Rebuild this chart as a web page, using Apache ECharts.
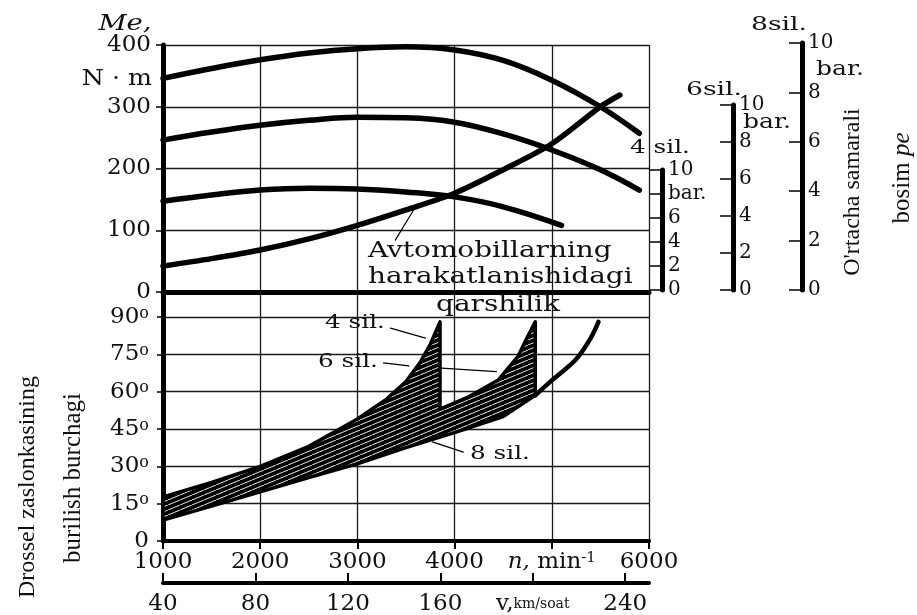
<!DOCTYPE html>
<html><head><meta charset="utf-8">
<script src="https://cdn.jsdelivr.net/npm/echarts@6/dist/echarts.min.js"></script>
<style>html,body{margin:0;padding:0;background:#fff}#c{width:917px;height:615px}</style>
</head><body><div id="c"></div>
<script>
// ---------------- DATA ----------------
// Top panel: effective torque Me (N·m) vs engine speed n (min^-1)
const nTop   = [1000,1500,2000,2500,3000,3500,4000,4500,5000,5500,5900];
const me8    = [346, 362, 376, 387, 394, 397, 392, 375, 343, 300, 257];   // 8 sil.
const me6    = [246, 259, 270, 278, 283, 282, 275, 256, 230, 198, 165];   // 6 sil.
const n4Top  = [1000,1500,2000,2500,3000,3500,4000,4500,5100];
const me4    = [147, 157, 165, 168, 167, 162, 154, 138, 108];              // 4 sil.
const nRes   = [1000,1500,2000,2500,3000,3500,4000,4500,5000,5500,5700];
const resist = [42,  54,  68,  86,  108, 133, 160, 198, 240, 300, 319];     // harakat qarshiligi

// Bottom panel: throttle opening angle (deg) vs n
const n4Thr = [1000,1500,2000,2500,3000,3300,3500,3650,3750,3850];
const thr4  = [17.7,23.5,30,  38,  49,  57,  64,  72,  79,  88];
const n6Thr = [3850,4150,4450,4650,4750,4830];
const thr6  = [53,  58,  64.7,74,  82,  88];
const n8Thr = [1000,1500,2000,2500,3000,3500,4000,4500,4830,5000,5250,5400,5480];
const thr8  = [8.4, 14,  19.7,25.5,31,  37.5,43.5,50,  58.5,64.5,73,  81.5,88];

// Axis tick values
const vTicks = [40,80,120,160,200,240];
const vLabels = [40,80,120,160,240];
const pTicks = [0,2,4,6,8,10];

// Leader lines (data coordinates)
const leaderRes = [[3390,84],[3590,136]];
const leader4   = [[3341,85.5],[3700,81.5]];
const leader6a  = [[3269,71.5],[3530,70.3]];
const leader6b  = [[3823,69.5],[4430,68]];
const leader8   = [[3772,39.8],[4090,35.7]];

// ---------------- CHART ----------------
const chart = echarts.init(document.getElementById('c'), null, {renderer:'canvas', width:917, height:615});
const FS = '"DejaVu Serif", serif';
const TXT = '#111';
const pts = (xs, ys) => xs.map((x,i)=>[x, ys[i]]);

const upper = pts(n4Thr, thr4).concat(pts(n6Thr, thr6));
const split = n6Thr[n6Thr.length-1];
const lowerPart = pts(n8Thr, thr8).filter(p => p[0] <= split).reverse();
const band = upper.concat(lowerPart);
const tail = pts(n8Thr, thr8).filter(p => p[0] >= split);

// hatch pattern
const pc = document.createElement('canvas'); pc.width = 12; pc.height = 5;
const pctx = pc.getContext('2d');
pctx.fillStyle = '#000'; pctx.fillRect(0,0,12,5);
pctx.strokeStyle = '#fff'; pctx.lineWidth = 0.9;
pctx.beginPath(); pctx.moveTo(-6,7.5); pctx.lineTo(18,-2.5); pctx.stroke();
const hatch = {image: pc, repeat: 'repeat'};

const axLine = w => ({show:true, onZero:false, lineStyle:{color:'#000', width:w}});
const split1 = {show:true, lineStyle:{color:'#1a1a1a', width:1.3}};
const lblBase = {color: TXT, fontFamily: FS, fontSize: 23, showMinLabel:true, showMaxLabel:true};

// pressure (bar) axes; on the 4-cyl. axis "bar." replaces the label at 8
function pAxis(grid, barAt8) {
  return {
    gridIndex: grid, type:'value', min:0, max:10, interval:2, position:'left',
    axisLine: axLine(5),
    axisTick: {show:true, inside:false, length:13, lineStyle:{color:'#000', width:1.5}, customValues: pTicks},
    axisLabel: {inside:true, margin:6, color:TXT, fontFamily:FS, fontSize:20,
      customValues: pTicks, showMinLabel:true, showMaxLabel:true,
      formatter: v => (barAt8 && v === 8 ? 'bar.' : String(v))},
    splitLine: {show:false}
  };
}

function lineS(data, xi, w, smooth, z) {
  return {type:'line', xAxisIndex:xi, yAxisIndex:xi, data, smooth: smooth, symbol:'none', silent:true,
    lineStyle:{color:'#000', width:w, cap:'round', join:'round'}, z: z || 4};
}

function T(text, x, y, o) {
  o = o || {};
  return {type:'text', x, y, scaleX: o.sx || 1, rotation: o.rot || 0, z: 50, silent:true,
    style: {text, fill: TXT, font: o.font || ('22px ' + FS),
      textAlign: o.align || 'center', textVerticalAlign: 'middle',
      align: o.align || 'center', verticalAlign: 'middle', rich: o.rich}};
}

const graphics = [
  T('Me,', 125, 24, {font:'italic 22px ' + FS, sx:1.25}),
  T('N · m', 152, 79, {align:'right', sx:1.15}),
  T('Avtomobillarning', 368, 251, {align:'left', sx:1.27}),
  T('harakatlanishidagi', 368, 277, {align:'left', sx:1.27}),
  T('qarshilik', 498, 305, {sx:1.27}),
  T('4 sil.', 660, 148, {font:'19px ' + FS, sx:1.3}),
  T('6sil.', 714, 90, {font:'19px ' + FS, sx:1.4}),
  T('8sil.', 779, 25, {font:'19px ' + FS, sx:1.4}),
  T('bar.', 743, 123, {font:'20px ' + FS, sx:1.25, align:'left'}),
  T('bar.', 816, 70, {font:'20px ' + FS, sx:1.25, align:'left'}),
  T("O'rtacha samarali", 853, 192, {font:'24px "Liberation Serif"', rot:Math.PI/2}),
  T('bosim {i|pe}', 902, 178, {font:'25px "Liberation Serif"', rot:Math.PI/2,
     rich:{i:{fontFamily:'"Liberation Serif"', fontStyle:'italic', fontSize:25}}}),
  T('Drossel zaslonkasining', 28, 487, {font:'24px "Liberation Serif"', rot:Math.PI/2}),
  T('burilish burchagi', 73, 478, {font:'25px "Liberation Serif"', rot:Math.PI/2}),
  T('4 sil.', 355, 323, {font:'19px ' + FS, sx:1.3}),
  T('6 sil.', 348, 362, {font:'19px ' + FS, sx:1.3}),
  T('8 sil.', 500, 454, {font:'19px ' + FS, sx:1.3})
];

const option = {
  animation: false,
  backgroundColor: '#fff',
  grid: [
    {left:163, top:45, width:486, height:247, outerBoundsMode:'none'},
    {left:163, top:292, width:486, height:249, outerBoundsMode:'none'},
    {left:662, top:170, width:20, height:120, outerBoundsMode:'none'},
    {left:733, top:105, width:20, height:185, outerBoundsMode:'none'},
    {left:802, top:43, width:20, height:247, outerBoundsMode:'none'}
  ],
  xAxis: [
    {gridIndex:0, type:'value', min:1000, max:6000, interval:1000,
     axisLine: axLine(5), axisTick:{show:false}, axisLabel:{show:false}, splitLine: split1},
    {gridIndex:1, type:'value', min:1000, max:6000, interval:1000,
     axisLine: axLine(4), axisTick:{show:true, length:8, lineStyle:{color:'#000', width:2}},
     axisLabel: Object.assign({}, lblBase, {margin:10,
       formatter: v => v === 5000 ? '{i|n,} min{s|-1}' : String(v),
       rich: {i:{fontFamily:FS, fontStyle:'italic', fontSize:23, color:TXT},
              s:{fontFamily:FS, fontSize:15, color:TXT, verticalAlign:'top'}}}),
     splitLine: split1},
    {gridIndex:1, type:'value', position:'bottom', offset:42, min:40, max:250.3, interval:40,
     axisLine: axLine(4),
     axisTick:{show:true, inside:true, length:10, lineStyle:{color:'#000', width:2}, customValues: vTicks},
     axisLabel: Object.assign({}, lblBase, {margin:10, customValues: vTicks,
       formatter: v => v === 200 ? '{a|v,}{b|km/soat}' : (vLabels.indexOf(v) >= 0 ? String(v) : ''),
       rich: {a:{fontFamily:FS, fontSize:23, color:TXT}, b:{fontFamily:FS, fontSize:14, color:TXT}}}),
     splitLine:{show:false}},
    {gridIndex:2, type:'value', show:false, min:0, max:1},
    {gridIndex:3, type:'value', show:false, min:0, max:1},
    {gridIndex:4, type:'value', show:false, min:0, max:1}
  ],
  yAxis: [
    {gridIndex:0, type:'value', min:0, max:400, interval:100,
     axisLine: axLine(5), axisTick:{show:true, length:7, lineStyle:{color:'#000', width:1.5}},
     axisLabel: Object.assign({}, lblBase, {margin:12}), splitLine: split1},
    {gridIndex:1, type:'value', min:0, max:100, interval:15,
     axisLine: axLine(5), axisTick:{show:true, length:6, lineStyle:{color:'#000', width:1.5}},
     axisLabel: Object.assign({}, lblBase, {margin:14, showMaxLabel:false,
       formatter: v => v > 90 ? '' : (v === 0 ? '0' : v + '{s|o}'),
       rich: {s:{fontFamily:FS, fontSize:16, color:TXT, verticalAlign:'top'}}}),
     splitLine: split1},
    pAxis(2, true),
    pAxis(3, false),
    pAxis(4, false)
  ],
  series: [
    lineS(pts(nTop, me8), 0, 5.5, 0.4),
    lineS(pts(nTop, me6), 0, 5.5, 0.4),
    lineS(pts(n4Top, me4), 0, 5.5, 0.4),
    lineS(pts(nRes, resist), 0, 5.5, 0.3),
    {type:'custom', xAxisIndex:1, yAxisIndex:1, coordinateSystem:'cartesian2d', silent:true, clip:false, z:3,
     data:[[1000,0]],
     renderItem: (params, api) => ({
       type:'polygon',
       shape:{points: band.map(p => api.coord(p))},
       style:{fill: hatch, stroke:'#000', lineWidth:3.5, lineJoin:'round'}
     })},
    lineS(tail, 1, 4.5, 0.35),
    lineS(leaderRes, 0, 1.2, false),
    lineS(leader4, 1, 1.2, false),
    lineS(leader6a, 1, 1.2, false),
    lineS(leader6b, 1, 1.2, false, 2),
    lineS(leader8, 1, 1.2, false)
  ],
  graphic: graphics
};
chart.setOption(option);
</script>
</body></html>
